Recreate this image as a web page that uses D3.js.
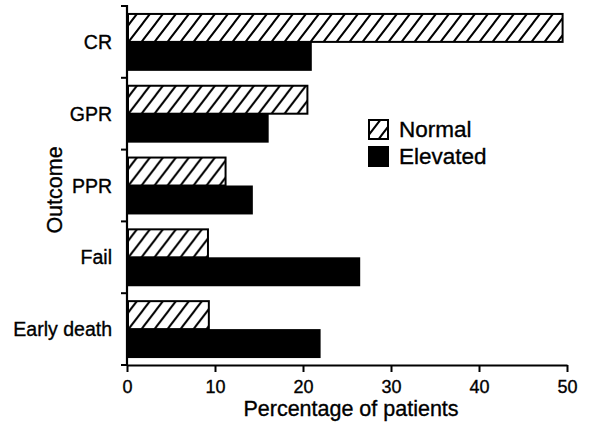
<!DOCTYPE html>
<html>
<head>
<meta charset="utf-8">
<script src="https://cdn.jsdelivr.net/npm/d3@7"></script>
<style>
  body { margin: 0; background: #fff; }
  svg { display: block; font-family: "Liberation Sans", Arial, Helvetica, sans-serif; }
  text { stroke: #000; stroke-width: 0.35px; }
</style>
</head>
<body>
<div id="chart"></div>
<script>
// Data
const outcomes = ["CR", "GPR", "PPR", "Fail", "Early death"];
const series = ["Normal", "Elevated"];
const normal_values = [49.5, 20.5, 11.2, 9.2, 9.3];
const elevated_values = [21.0, 16.1, 14.3, 26.5, 22.0];
const x_ticks = [0, 10, 20, 30, 40, 50];

const rows = outcomes.map((o, i) => ({ outcome: o, Normal: normal_values[i], Elevated: elevated_values[i] }));

// Layout
const width = 589, height = 427;

const x = d3.scaleLinear().domain([0, 50]).range([127, 567]);
const y = d3.scaleBand().domain(outcomes).range([6, 365]).paddingInner(0).paddingOuter(0);
const y_sub = d3.scaleBand().domain(series).range([0, y.bandwidth()]).paddingInner(0).paddingOuter(0.24);

const svg = d3.select("#chart").append("svg")
  .attr("width", width)
  .attr("height", height);

// hatch for the "Normal" bars
const pw = 13, ph = 17;
svg.append("defs").append("pattern")
  .attr("id", "hatch")
  .attr("patternUnits", "userSpaceOnUse")
  .attr("width", pw)
  .attr("height", ph)
  .call(p => p.append("rect").attr("width", pw).attr("height", ph).attr("fill", "#fff"))
  .append("path")
    .attr("d", `M0,${ph} L${pw},0 M${-pw/2},${ph/2} L${pw/2},${-ph/2} M${pw/2},${ph*1.5} L${pw*1.5},${ph/2}`)
    .attr("stroke", "#000")
    .attr("stroke-width", 2);

const fill_of = s => s === "Normal" ? "url(#hatch)" : "#000";

// Bars
const groups = svg.append("g").selectAll("g").data(rows).join("g")
  .attr("transform", d => `translate(0,${y(d.outcome)})`);

groups.selectAll("rect").data(d => series.map(s => ({ key: s, value: d[s] }))).join("rect")
  .attr("x", d => x(0) + (d.key === "Normal" ? 1 : 0))
  .attr("y", d => y_sub(d.key) + (d.key === "Normal" ? 1 : 0))
  .attr("width", d => x(d.value) - x(0) - (d.key === "Normal" ? 1 : 0))
  .attr("height", d => y_sub.bandwidth() - (d.key === "Normal" ? 1 : 0))
  .attr("fill", d => fill_of(d.key))
  .attr("stroke", d => d.key === "Normal" ? "#000" : null)
  .attr("stroke-width", 2);

// X axis
const x_axis = svg.append("g")
  .attr("transform", `translate(0,${y.range()[1]})`)
  .call(d3.axisBottom(x).tickValues(x_ticks).tickSize(7).tickPadding(8).tickSizeOuter(0));
x_axis.select(".domain").attr("stroke-width", 2.2);
x_axis.selectAll(".tick line").attr("stroke-width", 2);
x_axis.selectAll(".tick text")
  .attr("font-size", 18)
  .attr("font-family", "Liberation Sans, Arial, sans-serif")
  .attr("fill", "#000");

// Y axis (ticks sit on the band boundaries)
const y_axis = svg.append("g");
y_axis.append("line")
  .attr("x1", x(0)).attr("x2", x(0))
  .attr("y1", y.range()[0] - 1).attr("y2", y.range()[1])
  .attr("stroke", "#000").attr("stroke-width", 2.2);
const boundaries = outcomes.map(o => y(o)).concat([y.range()[1]]);
y_axis.selectAll(".ytick").data(boundaries).join("line")
  .attr("class", "ytick")
  .attr("x1", x(0) - 6).attr("x2", x(0))
  .attr("y1", d => d).attr("y2", d => d)
  .attr("stroke", "#000").attr("stroke-width", 2);
y_axis.selectAll(".ylabel").data(outcomes).join("text")
  .attr("class", "ylabel")
  .attr("x", 112)
  .attr("y", d => y(d) + y.bandwidth() / 2 + 7)
  .attr("text-anchor", "end")
  .attr("font-size", 19.5)
  .text(d => d);

// Axis titles
svg.append("text")
  .attr("x", 351).attr("y", 416)
  .attr("text-anchor", "middle")
  .attr("font-size", 21.5)
  .text("Percentage of patients");

svg.append("text")
  .attr("transform", "translate(62,190) rotate(-90)")
  .attr("text-anchor", "middle")
  .attr("font-size", 21.5)
  .text("Outcome");

// Legend
const legend = svg.append("g").attr("transform", "translate(368,119)");
const legend_items = legend.selectAll("g").data(series).join("g")
  .attr("transform", (d, i) => `translate(0,${i * 27})`);
legend_items.append("rect")
  .attr("x", 1).attr("y", 1)
  .attr("width", 19).attr("height", 19)
  .attr("fill", d => fill_of(d))
  .attr("stroke", "#000")
  .attr("stroke-width", 2);
legend_items.append("text")
  .attr("x", 31).attr("y", 18)
  .attr("font-size", 22.5)
  .text(d => d);
</script>
</body>
</html>
